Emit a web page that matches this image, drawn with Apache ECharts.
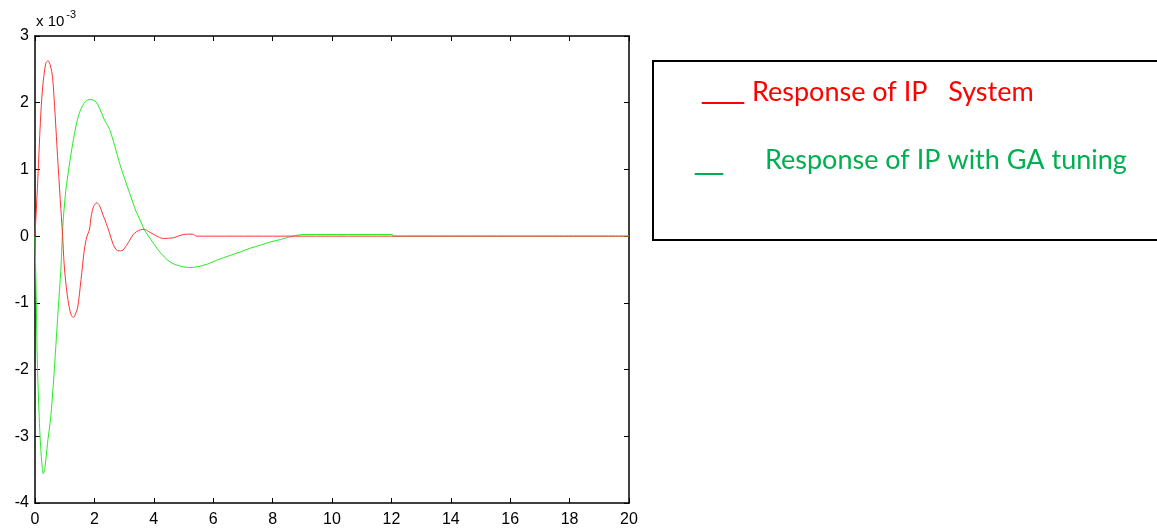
<!DOCTYPE html>
<html>
<head>
<meta charset="utf-8">
<script src="https://cdn.jsdelivr.net/npm/echarts@6/dist/echarts.min.js"></script>
<style>html,body{margin:0;padding:0;background:#fff;}#c{width:1157px;height:528px;}</style>
</head>
<body>
<div id="c"></div>
<script>
// Time axis ticks and series data (values in units of 1e-3)
const xTicks = [0, 2, 4, 6, 8, 10, 12, 14, 16, 18, 20];
const yTicks = [-4, -3, -2, -1, 0, 1, 2, 3];
const seriesNames = ['Response of IP   System', 'Response of IP with GA tuning'];

const redT = [0,0.1,0.18,0.25,0.36,0.44,0.52,0.59,0.68,0.76,0.85,0.93,0.98,1.05,1.13,1.21,1.29,1.36,1.44,1.55,1.66,1.75,1.83,1.89,1.97,2.08,2.17,2.28,2.4,2.5,2.62,2.7,2.79,2.88,2.96,3.08,3.19,3.3,3.41,3.55,3.69,3.82,3.98,4.15,4.32,4.5,4.66,4.88,5.1,5.3,5.45,8,12,16,20];
const redY = [0,0.9,1.7,2.19,2.59,2.63,2.55,2.39,1.8,1.19,0.55,0,-0.41,-0.75,-1.01,-1.17,-1.22,-1.17,-1.06,-0.65,-0.21,0,0.09,0.29,0.44,0.5,0.46,0.33,0.19,0.06,-0.11,-0.18,-0.22,-0.22,-0.21,-0.14,-0.06,0.02,0.065,0.095,0.1,0.07,0.03,-0.01,-0.035,-0.03,-0.025,0.01,0.03,0.03,0,0,0,0,0];

const greenT = [0,0.04,0.08,0.14,0.19,0.24,0.28,0.34,0.42,0.53,0.62,0.7,0.78,0.87,0.92,0.96,1.04,1.15,1.27,1.38,1.49,1.65,1.83,1.95,2.06,2.17,2.34,2.51,2.68,2.85,3.02,3.19,3.41,3.47,3.69,3.9,4.15,4.35,4.54,4.75,4.99,5.2,5.45,5.8,6.12,6.5,6.92,7.25,7.59,7.9,8.27,8.67,9.06,12.03,12.05,16,20];
const greenY = [0,-0.9,-1.91,-2.7,-3.16,-3.45,-3.56,-3.45,-3.11,-2.71,-2.2,-1.66,-1.1,-0.51,0,0.3,0.69,1.05,1.39,1.65,1.84,1.99,2.05,2.04,2.01,1.92,1.74,1.6,1.36,1.09,0.86,0.64,0.36,0.31,0.09,-0.05,-0.21,-0.31,-0.385,-0.43,-0.46,-0.47,-0.46,-0.42,-0.36,-0.3,-0.235,-0.18,-0.135,-0.09,-0.05,0,0.025,0.025,0,0,0];

const pair = (t, y) => t.map((v, i) => [v, y[i]]);

const chart = echarts.init(document.getElementById('c'), null, {renderer: 'canvas'});
const axisFont = {color: '#000', fontFamily: 'Liberation Sans, Arial', fontSize: 16};
const lineStyle = {color: '#000', width: 1.5};
const tickStyle = {color: '#000', width: 1};
const mkAxis = (type, pos, ticks, interval, labels) => ({
  type: 'value', min: ticks[0], max: ticks[ticks.length-1], interval, position: pos,
  axisLine: {show: true, onZero: false, lineStyle},
  axisTick: {show: true, inside: true, length: 5, lineStyle: tickStyle},
  axisLabel: labels ? Object.assign({margin: type === 'x' ? 9 : 6}, axisFont) : {show: false},
  splitLine: {show: false}
});
chart.setOption({
  animation: false,
  backgroundColor: '#fff',
  grid: {left: 35, top: 36, width: 594, height: 467, containLabel: false},
  xAxis: [mkAxis('x', 'bottom', xTicks, 2, true), mkAxis('x', 'top', xTicks, 2, false)],
  yAxis: [mkAxis('y', 'left', yTicks, 1, true), mkAxis('y', 'right', yTicks, 1, false)],
  series: [
    {name: seriesNames[0], type: 'line', data: pair(redT, redY), showSymbol: false, smooth: 0.3,
     lineStyle: {color: '#ff3333', width: 1}, z: 3},
    {name: seriesNames[1], type: 'line', data: pair(greenT, greenY), showSymbol: false, smooth: 0.3,
     lineStyle: {color: '#22ee22', width: 1}, z: 2}
  ],
  graphic: [
    {type: 'text', left: 36, top: 9,
     style: {text: '{a|x 10}{b|-3}', rich: {
       a: {fontFamily: 'Liberation Sans, Arial', fontSize: 15, fill: '#000', verticalAlign: 'bottom'},
       b: {fontFamily: 'Liberation Sans, Arial', fontSize: 11, fill: '#000', verticalAlign: 'top', padding: [0,0,9,2]}
     }}},
    {type: 'rect', shape: {x: 653, y: 61, width: 520, height: 179},
     style: {fill: '#fff', stroke: '#000', lineWidth: 2}, z: 1},
    {type: 'text', x: 702, y: 76, z: 5,
     style: {text: '___', fill: '#ff0000', font: '28px "DejaVu Sans", sans-serif'}},
    {type: 'text', x: 752, y: 79, z: 5,
     style: {text: seriesNames[0], fill: '#ff0000', font: '27px Lato, Carlito, sans-serif'}},
    {type: 'text', x: 695, y: 147, z: 5,
     style: {text: '__', fill: '#00b050', font: '28px "DejaVu Sans", sans-serif'}},
    {type: 'text', x: 765, y: 147, z: 5,
     style: {text: seriesNames[1], fill: '#00b050', font: '27px Lato, Carlito, sans-serif'}}
  ]
});
</script>
</body>
</html>
